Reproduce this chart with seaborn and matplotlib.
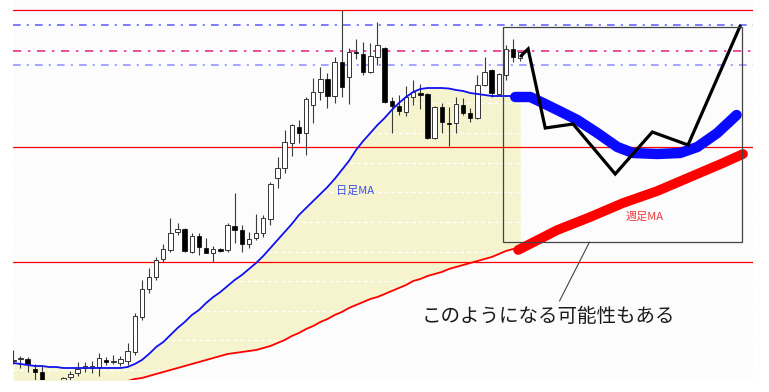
import numpy as np
import pandas as pd
import matplotlib
matplotlib.use("Agg")
import matplotlib.pyplot as plt
from matplotlib.patches import Rectangle
import seaborn as sns

# ---------------- data (price units) ----------------
opens = [103.9, 104.1, 104.1, 103.1, 102.8, 101.5, 100.8, 101.5, 102.3, 102.7,
         103.25, 103.25, 103.3, 104.0, 103.8, 103.7, 103.9, 104.8, 108.3, 111.1,
         112.3, 114.1, 115.0, 116.8, 117.1, 114.8, 116.4, 115.2, 114.7, 115.1,
         115.0, 117.4, 117.0, 115.6, 116.2, 116.7, 118.1, 122.2, 123.2, 125.7,
         127.3, 126.7, 129.5, 130.8, 132.1, 130.4, 133.8, 132.3, 134.8, 134.6,
         132.8, 134.3, 135.2, 129.9, 129.4, 128.8, 130.3, 130.7, 130.6, 126.2,
         129.3, 127.7, 127.7, 129.5, 128.7, 128.2, 131.5, 133.0, 130.6, 132.5,
         135.1, 134.2]
highs = [105.0, 104.4, 104.3, 103.6, 103.5, 101.8, 101.7, 102.3, 102.9, 103.8,
         103.8, 103.9, 104.7, 104.3, 104.5, 104.4, 105.7, 108.7, 112.0, 113.2,
         114.3, 115.6, 118.2, 117.7, 117.2, 116.7, 116.7, 116.2, 115.4, 115.2,
         117.7, 120.7, 117.5, 116.8, 118.6, 118.5, 121.8, 124.3, 127.0, 127.6,
         128.0, 130.3, 132.2, 133.3, 132.7, 134.3, 139.0, 135.2, 136.1, 135.8,
         135.7, 137.8, 135.3, 130.3, 130.5, 131.4, 132.0, 131.6, 130.7, 129.4,
         129.7, 129.3, 130.3, 130.2, 129.2, 132.5, 134.3, 133.1, 132.7, 135.5,
         136.1, 134.8]
lows = [103.6, 103.2, 102.8, 101.7, 101.0, 100.5, 100.4, 101.2, 102.0, 102.4,
        102.8, 102.7, 102.4, 103.5, 103.6, 103.4, 103.5, 104.5, 108.0, 110.7,
        112.0, 113.8, 114.8, 116.5, 114.8, 114.7, 114.5, 114.7, 113.8, 114.8,
        114.8, 115.7, 114.8, 115.2, 116.0, 116.3, 117.5, 121.2, 122.7, 124.4,
        125.7, 124.5, 127.7, 130.0, 129.2, 129.7, 130.3, 129.6, 134.1, 132.5,
        132.7, 133.5, 129.7, 126.7, 128.5, 128.4, 129.5, 129.1, 126.1, 126.1,
        126.7, 125.4, 126.7, 128.5, 127.8, 128.1, 131.4, 130.3, 130.5, 132.0,
        133.8, 133.9]
closes = [104.0, 104.1, 103.6, 102.8, 101.5, 100.8, 101.4, 102.2, 102.6, 103.1,
          103.35, 103.35, 104.2, 103.8, 103.8, 104.1, 104.9, 108.4, 111.1, 112.3,
          114.0, 115.1, 116.7, 117.1, 114.9, 116.4, 115.3, 114.7, 115.1, 114.9,
          117.5, 117.0, 115.6, 116.1, 116.7, 118.2, 121.6, 123.2, 125.8, 127.5,
          126.7, 130.1, 130.8, 132.1, 130.4, 133.8, 131.3, 134.8, 134.7, 132.8,
          134.4, 135.5, 129.8, 129.4, 128.9, 130.3, 130.8, 130.5, 126.2, 129.3,
          127.8, 127.6, 129.6, 128.7, 128.2, 131.5, 132.8, 130.7, 132.6, 135.1,
          134.3, 134.8]

daily_ma = [103.7, 103.6, 103.5, 103.4, 103.4, 103.3, 103.3, 103.2, 103.2, 103.2,
            103.2, 103.2, 103.2, 103.2, 103.2, 103.2, 103.3, 103.6, 104.0, 104.6,
            105.3, 105.8, 106.5, 107.2, 107.8, 108.5, 109.0, 109.7, 110.3, 110.8,
            111.4, 112.0, 112.5, 113.1, 113.7, 114.4, 115.2, 116.0, 116.8, 117.6,
            118.5, 119.2, 119.9, 120.6, 121.3, 122.1, 123.0, 123.9, 125.0, 125.9,
            126.7, 127.5, 128.2, 129.0, 129.7, 130.3, 130.8, 131.1, 131.2, 131.2,
            131.2, 131.15, 131.0, 130.9, 130.7, 130.6, 130.5, 130.4, 130.4, 130.4,
            130.4, 130.4]
weekly_ma = [100.0, 100.1, 100.2, 100.3, 100.4, 100.6, 100.7, 100.9, 101.0, 101.1,
             101.2, 101.4, 101.5, 101.6, 101.7, 101.8, 101.9, 102.1, 102.2, 102.4,
             102.6, 102.8, 103.0, 103.2, 103.4, 103.6, 103.8, 104.0, 104.2, 104.4,
             104.6, 104.7, 104.8, 104.9, 105.0, 105.2, 105.4, 105.7, 106.0, 106.4,
             106.7, 107.1, 107.4, 107.8, 108.1, 108.5, 108.8, 109.2, 109.5, 109.8,
             110.1, 110.3, 110.6, 110.9, 111.2, 111.5, 111.9, 112.1, 112.4, 112.6,
             112.8, 113.1, 113.3, 113.5, 113.7, 113.9, 114.1, 114.3, 114.6, 114.9,
             115.1, 115.3]

# projected paths (x = bar index, y = price)
price_path_x = [71.1, 72.1, 74.5, 78.4, 84.3, 89.5, 94.5, 101.8]
price_path_y = [134.4, 135.1, 127.2, 127.6, 122.6, 126.8, 125.5, 137.4]
daily_proj_x = [70.3, 72.4, 74.2, 76.2, 79.0, 81.8, 84.6, 86.8, 90.2, 93.4, 95.8, 98.6, 101.3]
daily_proj_y = [130.3, 130.3, 129.7, 129.0, 128.0, 126.7, 125.3, 124.7, 124.6, 124.7, 125.3, 126.7, 128.5]
weekly_proj_x = [70.7, 76.2, 80.8, 85.4, 90.2, 94.8, 99.4, 102.2]
weekly_proj_y = [115.0, 117.0, 118.3, 119.7, 120.9, 122.3, 123.7, 124.6]

# horizontal levels
red_levels = [139.0, 125.3, 113.8]
blue_level_top = 137.55
pink_level = 134.9
blue_level_low = 133.5
grid_levels = [129.7, 126.7, 123.7, 120.8, 117.8, 114.8, 111.9, 108.9, 106.0, 103.0]

# annotation
box_x = (68.6, 102.1)
box_y = (115.8, 137.3)
pointer_x = [80.7, 76.5]
pointer_y = [115.8, 109.9]
note_text = "このようになる可能性もある"
note_pos = (74.9, 108.4)
daily_label = "日足MA"
daily_label_pos = (47.8, 120.9)
weekly_label = "週足MA"
weekly_label_pos = (88.4, 118.3)

# ---------------- drawing ----------------
sns.set_theme(style="white")
plt.rcParams["font.family"] = ["Noto Sans CJK JP", "DejaVu Sans"]

fig = plt.figure(figsize=(7.69, 3.92), dpi=100)
fig.patch.set_facecolor("white")
ax = fig.add_axes([13 / 769, 12 / 392, 740 / 769, 380 / 392])
ax.set_facecolor("#fcfcfc")

idx = np.arange(len(opens))
o = np.array(opens); h = np.array(highs); l = np.array(lows); c = np.array(closes)

# yellow band between the two MAs
ax.fill_between(idx, daily_ma, weekly_ma, color="#f6f4cf", lw=0, zorder=1)

# grid (white dashed, only visible on the band)
for g in grid_levels:
    ax.axhline(g, color="white", lw=0.9, ls=(0, (3, 2.5)), zorder=1.5)

# horizontal levels
for r in red_levels:
    ax.axhline(r, color="#ff0000", lw=0.9, zorder=2)
ax.axhline(blue_level_top, color="#5a5aff", lw=1.1, ls=(0, (5, 4, 1.4, 4)), zorder=2)
ax.axhline(pink_level, color="#e8308e", lw=1.2, ls=(0, (5, 4, 1.4, 4)), zorder=2)
ax.axhline(blue_level_low, color="#8c8cff", lw=1.1, ls=(0, (5, 4, 1.4, 4)), zorder=2)

# candles
ax.vlines(idx, l, h, color="#3a3a3a", lw=0.8, zorder=3)
up = c >= o
body_bottom = np.minimum(o, c)
body_h = np.maximum(np.abs(c - o), 0.12)
ax.bar(idx[up], body_h[up], bottom=body_bottom[up], width=0.62,
       color="white", edgecolor="#333333", linewidth=0.7, zorder=4)
ax.bar(idx[~up], body_h[~up], bottom=body_bottom[~up], width=0.62,
       color="black", edgecolor="black", linewidth=0.5, zorder=4)

# moving averages
ma_df = pd.DataFrame({"i": idx, "daily": daily_ma, "weekly": weekly_ma})
sns.lineplot(data=ma_df, x="i", y="weekly", color="#ff0000", lw=1.3, ax=ax, zorder=5)
sns.lineplot(data=ma_df, x="i", y="daily", color="#1010f0", lw=1.3, ax=ax, zorder=5)

# projections
wp = pd.DataFrame({"x": weekly_proj_x, "y": weekly_proj_y})
dp = pd.DataFrame({"x": daily_proj_x, "y": daily_proj_y})
pp = pd.DataFrame({"x": price_path_x, "y": price_path_y})
sns.lineplot(data=wp, x="x", y="y", color="#ff0000", lw=7, ax=ax, zorder=6,
             solid_capstyle="round", solid_joinstyle="round")
sns.lineplot(data=dp, x="x", y="y", color="#0a0aff", lw=7.5, ax=ax, zorder=6,
             solid_capstyle="round", solid_joinstyle="round")
sns.lineplot(data=pp, x="x", y="y", color="black", lw=2.3, ax=ax, zorder=7,
             sort=False, solid_joinstyle="miter")

# annotation box & pointer
ax.add_patch(Rectangle((box_x[0], box_y[0]), box_x[1] - box_x[0], box_y[1] - box_y[0],
                       fill=False, edgecolor="#444444", lw=0.9, zorder=8))
ax.plot(pointer_x, pointer_y, color="#444444", lw=0.8, zorder=8)
ax.text(*note_pos, note_text, fontsize=14, color="#1a1a1a", ha="center", va="center", zorder=9)
ax.text(*daily_label_pos, daily_label, fontsize=8, color="#3a4ae8", ha="center", va="center", zorder=9)
ax.text(*weekly_label_pos, weekly_label, fontsize=8, color="#ee3a3a", ha="center", va="center", zorder=9)

ax.set_xlim(-0.05, 103.6)
ax.set_ylim(102.0, 140.0)
ax.set_xlabel("")
ax.set_ylabel("")
ax.set_xticks([])
ax.set_yticks([])
for s in ax.spines.values():
    s.set_visible(False)
if ax.get_legend() is not None:
    ax.get_legend().remove()

fig.savefig("out.png", dpi=100)
